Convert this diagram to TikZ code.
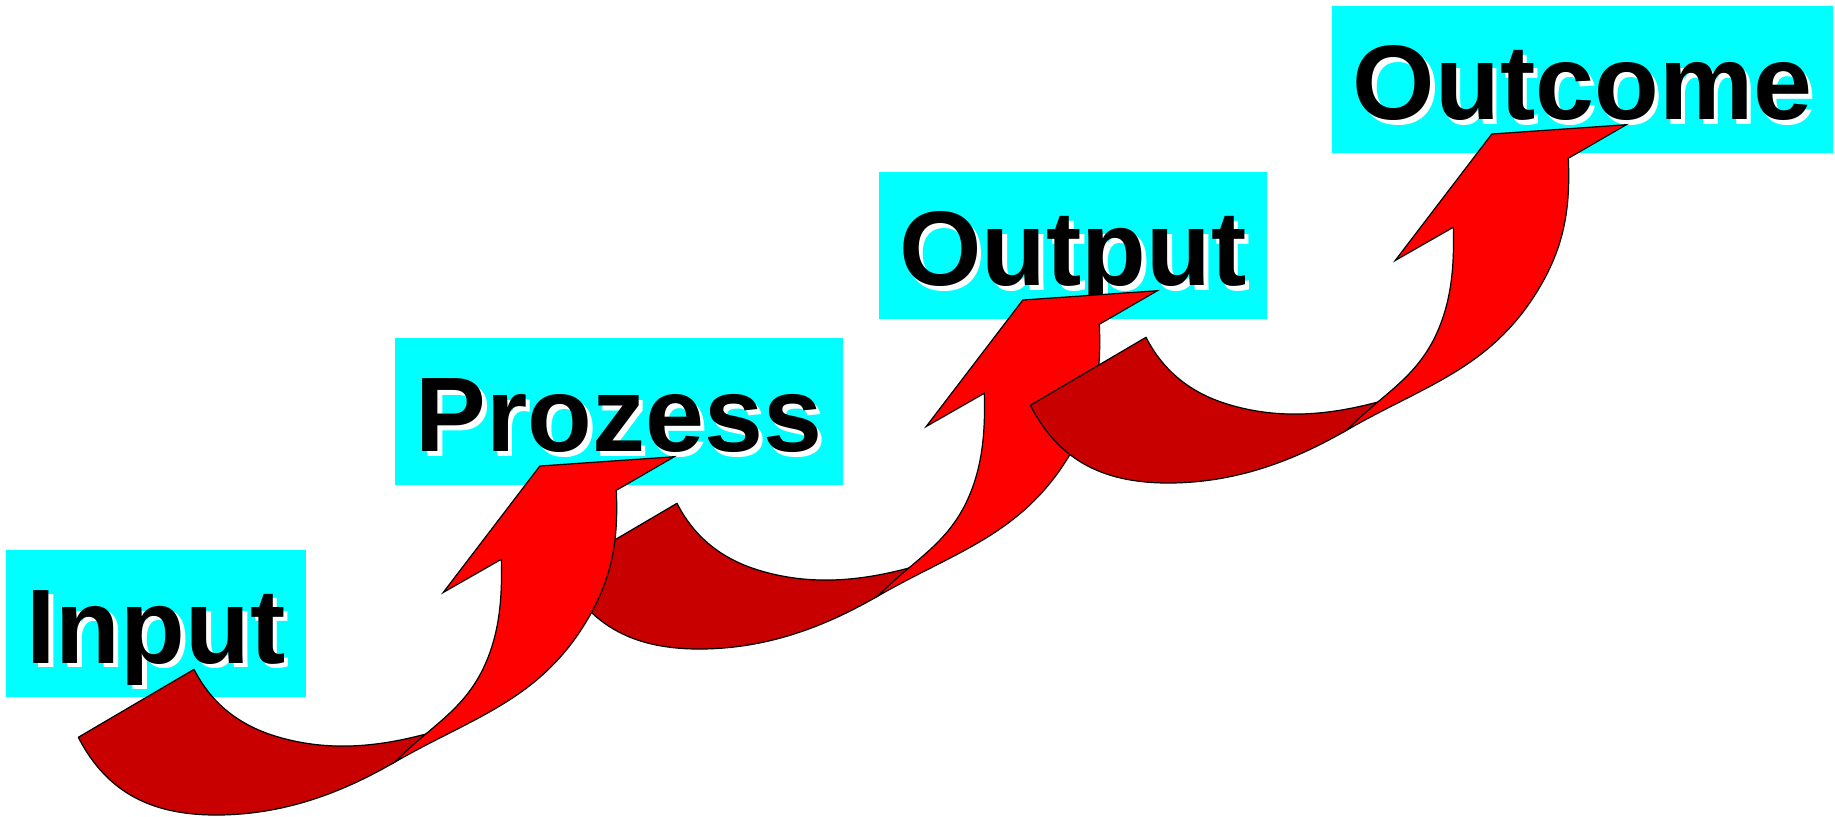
\documentclass[tikz,border=0pt]{standalone}
\usepackage{fontspec}
\setmainfont{Liberation Sans}
\definecolor{boxcyan}{RGB}{0,255,255}
\definecolor{brightred}{RGB}{255,0,0}
\definecolor{darkred}{RGB}{200,0,0}
\tikzset{
  lblbox/.style={fill=boxcyan, draw=none, inner sep=0pt, minimum height=147pt, anchor=north west},
  lbltext/.style={font=\fontsize{106}{120}\selectfont\bfseries, text=black, anchor=base, inner sep=0pt},
  lblshadow/.style={lbltext, text=white},
  backband/.style={fill=darkred, draw=black, line width=1.2pt, line join=round},
  frontband/.style={fill=brightred, draw=black, line width=1.2pt, line join=miter},
}
\newcommand{\stairarrow}{%
  % back (dark) side of the curved band
  \path[backband] (78.3,737.3) -- (194,669.3)
     .. controls (211.3,703.2) and (238.7,724.8) .. (275,736)
     .. controls (324.7,751.3) and (373.4,748) .. (425.9,734)
     -- (395,762)
     .. controls (347,789.7) and (290,814) .. (220,815)
     .. controls (155,815.8) and (108.1,795.1) .. (78.3,737.3) -- cycle;
  % front (bright) side with the arrow head
  \path[frontband] (395,762)
     .. controls (430,726.2) and (464,710.8) .. (484.7,665.3)
     .. controls (500,631.6) and (502.3,596.3) .. (501.3,559.3)
     -- (443.2,592.5) -- (539.8,466) -- (674.3,456.7) -- (616.3,490.3)
     .. controls (618.5,538.9) and (612.6,576.8) .. (588,618.7)
     .. controls (539.9,700.6) and (473,717) .. (395,762) -- cycle;
}
\begin{document}
\begin{tikzpicture}[x=1pt,y=-1pt]
\useasboundingbox (0,0) rectangle (1835,816);
% label boxes
\node[lblbox, minimum width=300pt] (bin) at (6,550) {};
\node[lblbox, minimum width=448pt] (bpro) at (395,338) {};
\node[lblbox, minimum width=388pt] (bout) at (879,172) {};
\node[lblbox, minimum width=501pt] (bcome) at (1332,6) {};
% texts with white shadow
\node[lblshadow] (tin-s) at (160.5,667.5) {Input};
\node[lbltext] (tin) at (156,663) {Input};
\node[lblshadow] (tpro-s) at (623.5,456) {Prozess};
\node[lbltext] (tpro) at (619,451.5) {Prozess};
\node[lblshadow] (tout-s) at (1077.5,290) {Output};
\node[lbltext] (tout) at (1073,285.5) {Output};
\node[lblshadow] (tcome-s) at (1587,124) {Outcome};
\node[lbltext] (tcome) at (1582.5,119.5) {Outcome};
% arrows (order: second, first, third)
\begin{scope}[shift={(483,-166)}]\stairarrow\end{scope}
\begin{scope}\stairarrow\end{scope}
\begin{scope}[shift={(952,-332)}]\stairarrow\end{scope}
\end{tikzpicture}
\end{document}
